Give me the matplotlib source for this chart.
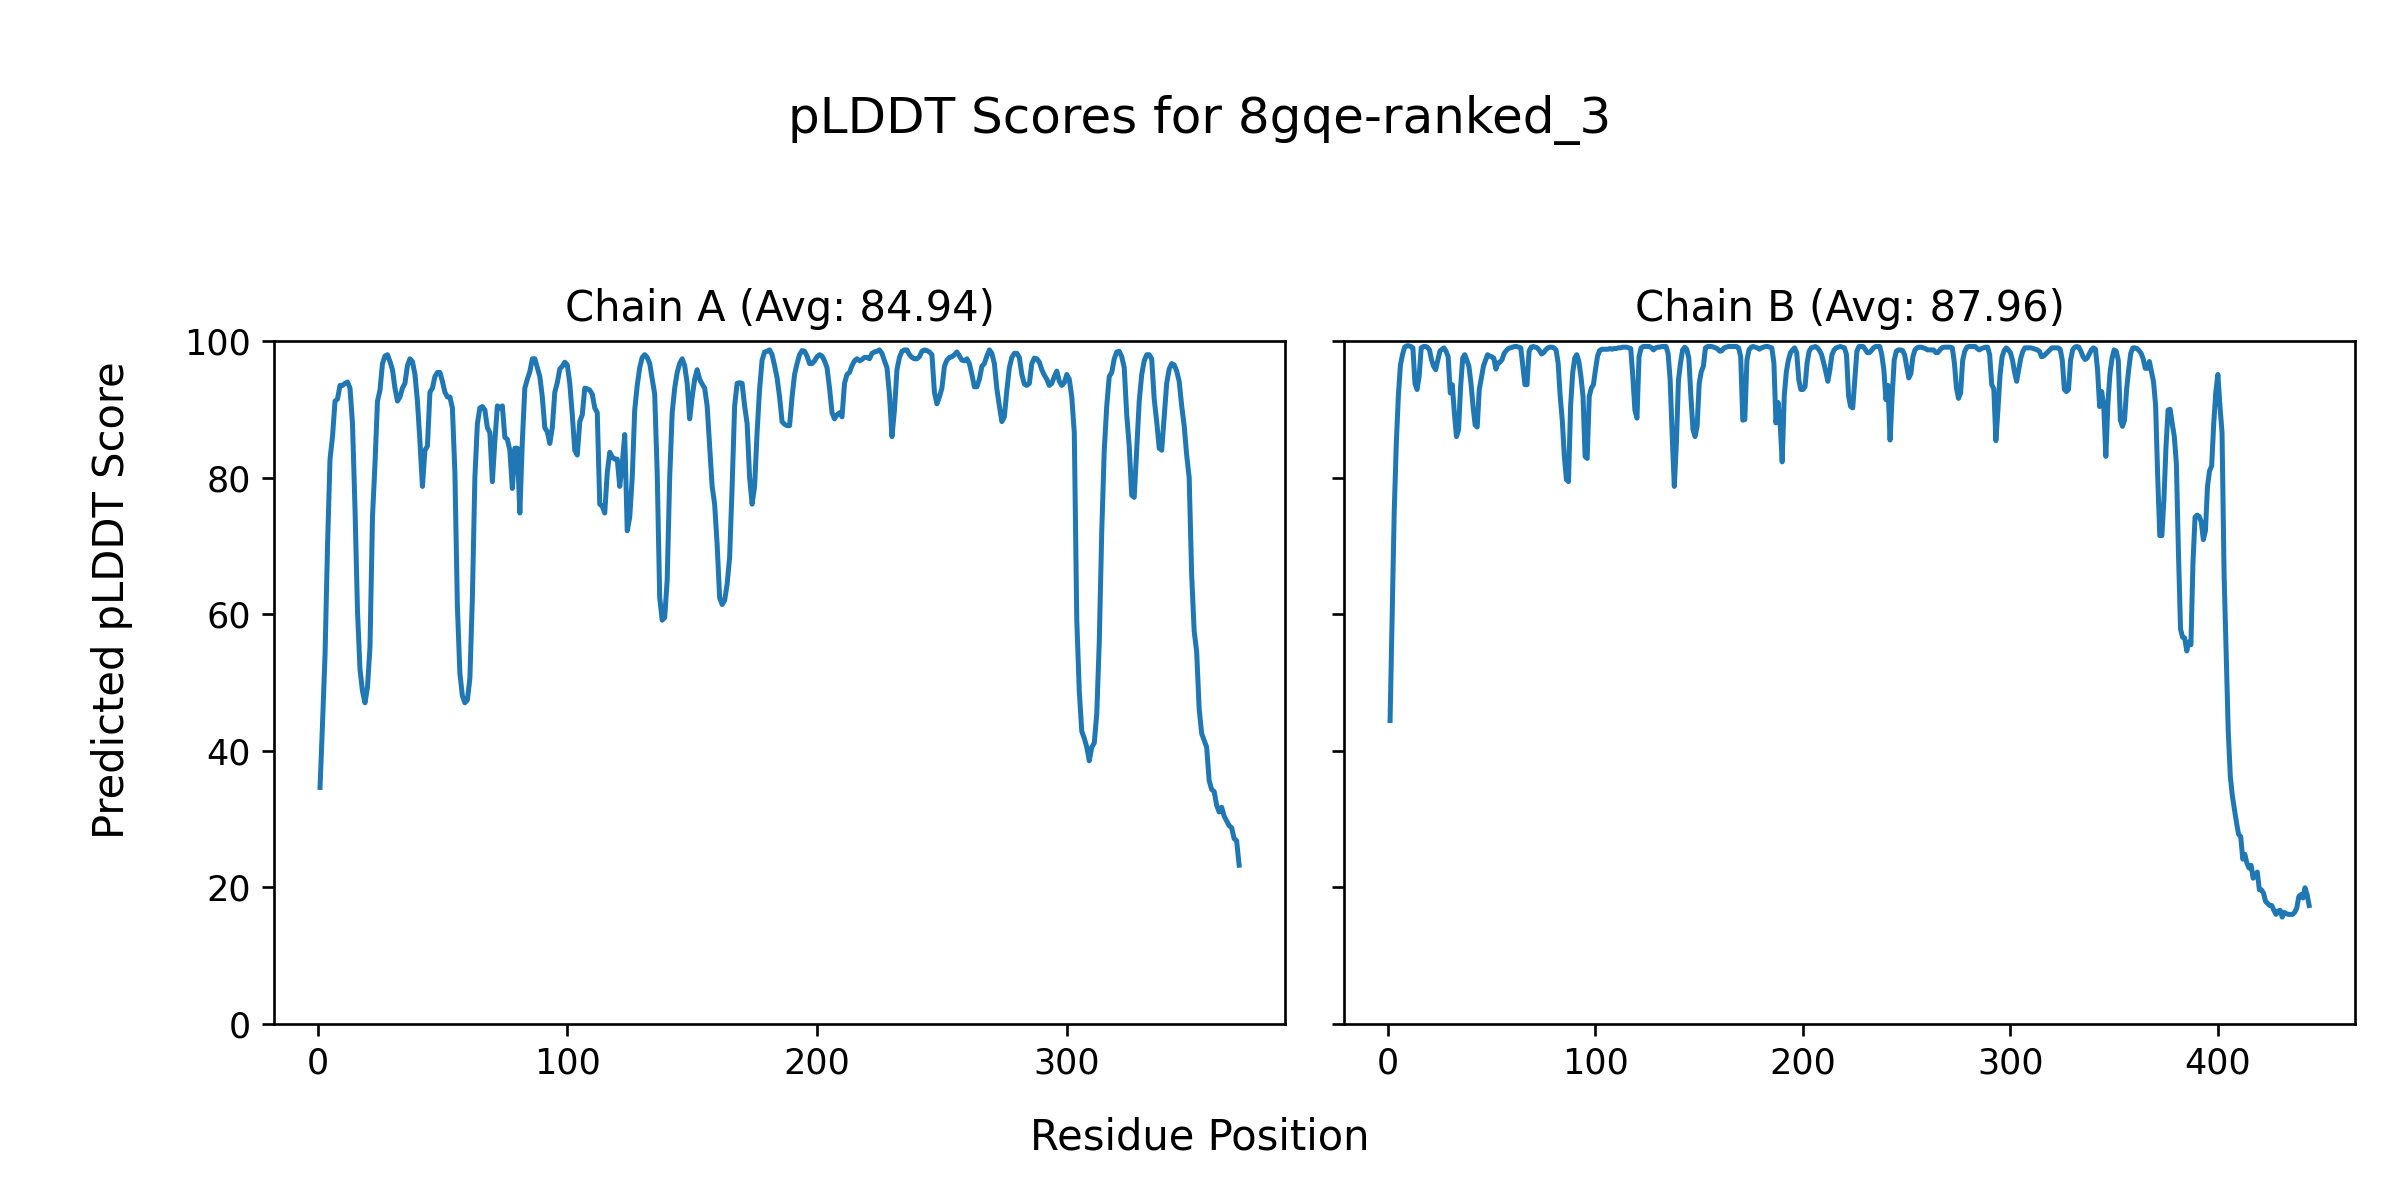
import numpy as np
import matplotlib
matplotlib.use("Agg")
import matplotlib.pyplot as plt
from matplotlib.ticker import MultipleLocator

model_name = "8gqe-ranked_3"
chain_names = ["A", "B"]
chain_avgs = [84.94, 87.96]

# pLDDT per residue (residue 1..N)
plddt_a = [
    34.6, 44.0, 54.0, 70.0, 82.7, 86.0, 91.2, 91.5, 93.5, 93.5,
    93.8, 94.0, 93.1, 87.9, 75.5, 60.4, 51.9, 48.7, 47.0, 49.3,
    55.2, 74.2, 82.0, 91.2, 92.8, 96.7, 97.8, 98.0, 97.0, 95.8,
    93.1, 91.2, 91.8, 93.1, 93.8, 96.4, 97.4, 97.0, 95.1, 91.2,
    85.3, 78.7, 84.0, 84.6, 92.5, 93.1, 94.8, 95.4, 95.4, 94.1,
    92.5, 91.8, 91.8, 90.2, 80.7, 61.1, 51.3, 48.0, 47.0, 47.4,
    50.6, 62.4, 80.0, 87.9, 90.2, 90.4, 89.9, 87.3, 86.6, 79.4,
    85.3, 90.5, 90.2, 90.5, 85.9, 85.6, 84.0, 78.4, 84.3, 84.3,
    74.8, 85.3, 93.1, 94.4, 95.5, 97.4, 97.4, 96.1, 94.8, 91.8,
    87.3, 86.7, 85.0, 87.3, 92.5, 93.9, 95.9, 96.3, 96.9, 96.5,
    93.8, 89.2, 84.0, 83.3, 88.2, 89.2, 93.1, 93.0, 92.8, 92.2,
    90.2, 89.5, 76.1, 75.8, 74.8, 80.7, 83.7, 83.0, 82.7, 82.7,
    78.7, 82.0, 86.3, 72.2, 74.2, 80.0, 89.9, 93.5, 96.1, 97.6,
    98.0, 97.6, 96.7, 94.4, 92.2, 80.7, 62.4, 59.1, 59.5, 65.0,
    80.0, 89.5, 93.1, 95.4, 96.7, 97.4, 96.4, 93.8, 88.6, 91.8,
    94.4, 95.8, 94.4, 93.7, 93.1, 90.5, 84.6, 78.7, 76.1, 70.2,
    62.4, 61.4, 62.0, 64.4, 68.3, 78.7, 90.5, 93.8, 93.9, 93.8,
    90.5, 87.9, 80.0, 76.1, 78.7, 86.6, 93.0, 97.2, 98.4, 98.5,
    98.7, 98.0, 96.4, 94.6, 91.8, 88.2, 87.8, 87.6, 87.6, 91.8,
    95.1, 96.7, 98.0, 98.6, 98.5, 97.8, 96.7, 96.7, 97.1, 97.7,
    98.0, 97.8, 97.1, 96.1, 93.1, 89.5, 88.6, 89.2, 89.5, 88.9,
    93.8, 95.1, 95.4, 96.4, 97.1, 97.4, 97.1, 97.3, 97.6, 97.6,
    97.4, 98.2, 98.4, 98.5, 98.7, 98.2, 97.1, 96.1, 92.2, 86.0,
    89.9, 95.8, 97.6, 98.5, 98.7, 98.7, 98.0, 97.6, 97.4, 97.4,
    97.7, 98.5, 98.7, 98.6, 98.4, 98.0, 92.5, 90.8, 91.8, 93.1,
    96.3, 97.2, 97.6, 97.7, 98.0, 98.4, 97.8, 97.2, 97.1, 97.4,
    96.7, 95.1, 93.3, 93.3, 94.4, 96.3, 96.7, 97.8, 98.7, 98.2,
    96.7, 93.0, 90.5, 88.2, 88.9, 92.8, 96.1, 97.6, 98.2, 98.2,
    97.6, 95.1, 93.7, 93.5, 93.8, 96.7, 97.5, 97.4, 96.9, 95.8,
    95.0, 94.4, 93.5, 93.8, 94.8, 95.6, 94.1, 93.5, 93.9, 95.1,
    94.4, 91.8, 86.6, 59.1, 48.7, 42.8, 41.8, 40.5, 38.5, 40.5,
    41.1, 45.4, 55.9, 72.2, 84.0, 90.5, 94.8, 95.4, 97.4, 98.4,
    98.5, 97.7, 96.1, 89.2, 84.6, 77.4, 77.1, 84.0, 91.2, 95.1,
    97.1, 98.0, 98.0, 97.4, 91.5, 88.2, 84.3, 84.0, 88.9, 93.8,
    95.9, 96.7, 96.5, 95.6, 94.1, 90.5, 87.6, 83.3, 80.0, 65.7,
    57.5, 54.5, 46.1, 42.5, 41.5, 40.5, 35.6, 34.3, 34.0, 32.0,
    31.0, 31.7, 30.4, 29.7, 29.0, 28.7, 27.1, 26.8, 23.2,
]

plddt_b = [
    44.4, 60.0, 75.0, 85.0, 92.0, 96.5, 98.0, 99.1, 99.3, 99.3,
    99.2, 99.0, 93.8, 92.9, 94.8, 99.0, 99.2, 99.2, 99.1, 98.7,
    97.2, 96.3, 95.8, 97.2, 98.5, 98.8, 99.0, 98.5, 97.7, 92.4,
    93.6, 89.4, 86.0, 87.0, 93.3, 97.5, 98.0, 97.2, 96.3, 93.8,
    90.4, 87.7, 87.4, 92.9, 94.6, 96.3, 97.2, 98.0, 97.8, 97.7,
    97.5, 95.9, 96.8, 96.9, 97.3, 98.2, 98.6, 98.9, 99.0, 99.1,
    99.2, 99.2, 99.1, 99.0, 96.3, 93.6, 93.6, 98.5, 99.1, 99.2,
    99.1, 99.0, 98.6, 98.1, 98.3, 98.7, 99.0, 99.1, 99.1, 99.0,
    98.7, 96.8, 91.9, 88.4, 83.1, 79.7, 79.4, 90.4, 95.3, 97.5,
    98.0, 97.0, 94.8, 91.9, 83.1, 82.8, 91.9, 93.1, 93.6, 95.8,
    97.8, 98.6, 98.8, 98.8, 98.8, 98.8, 98.9, 98.8, 98.9, 98.9,
    99.0, 99.0, 99.1, 99.1, 99.1, 99.0, 98.9, 94.8, 89.9, 88.7,
    97.7, 99.0, 99.2, 99.2, 99.2, 99.2, 99.0, 98.7, 99.0, 99.1,
    99.1, 99.2, 99.2, 99.2, 98.2, 94.3, 86.0, 78.7, 85.0, 94.3,
    96.8, 98.7, 99.1, 98.8, 97.5, 91.9, 87.0, 86.0, 87.5, 93.8,
    95.5, 96.3, 99.0, 99.2, 99.2, 99.2, 99.1, 99.0, 98.8, 98.5,
    98.6, 99.0, 99.1, 99.2, 99.2, 99.2, 99.2, 99.2, 99.0, 97.7,
    88.4, 88.5, 97.2, 98.7, 99.1, 99.2, 99.1, 99.0, 98.8, 99.0,
    99.1, 99.2, 99.2, 99.1, 99.0, 96.8, 88.0, 91.0, 88.0, 82.3,
    92.0, 95.5, 97.2, 98.3, 98.7, 99.0, 98.3, 94.3, 92.9, 92.9,
    93.3, 96.8, 98.5, 99.0, 99.1, 99.2, 99.0, 98.6, 98.0, 96.8,
    95.5, 94.1, 95.8, 98.0, 98.7, 99.0, 99.1, 99.2, 99.1, 99.0,
    98.0, 91.9, 90.4, 90.2, 94.3, 98.5, 99.2, 99.2, 99.2, 98.8,
    98.3, 98.3, 98.6, 99.0, 99.2, 99.2, 99.2, 98.0, 95.8, 91.4,
    93.5, 85.5, 91.9, 97.2, 98.5, 98.7, 98.7, 98.6, 98.0, 96.3,
    94.6, 95.2, 97.7, 98.7, 99.0, 99.1, 99.1, 99.0, 98.9, 98.7,
    98.7, 98.7, 98.7, 98.3, 98.3, 98.7, 99.0, 99.1, 99.1, 99.1,
    99.1, 99.0, 96.8, 93.1, 91.6, 92.4, 97.2, 98.5, 99.1, 99.2,
    99.2, 99.2, 99.2, 98.9, 98.7, 98.9, 99.0, 99.1, 99.1, 98.0,
    93.6, 93.0, 85.4, 90.0, 95.0, 97.7, 98.6, 99.0, 98.7, 98.3,
    97.2, 95.4, 94.1, 95.8, 97.5, 98.5, 99.0, 99.0, 99.0, 99.0,
    98.9, 98.8, 98.7, 98.5, 97.7, 97.8, 98.1, 98.4, 98.7, 99.0,
    99.0, 99.0, 99.0, 98.8, 97.2, 92.9, 92.6, 92.9, 97.2, 98.7,
    99.1, 99.2, 99.1, 98.5, 97.7, 97.3, 97.5, 98.1, 98.7, 99.0,
    98.8, 95.8, 90.4, 92.6, 90.4, 83.1, 90.9, 95.3, 97.5, 98.7,
    98.5, 97.2, 88.4, 87.5, 88.4, 92.9, 95.8, 98.2, 99.0, 99.0,
    98.9, 98.6, 98.2, 97.4, 96.0, 96.0, 97.0, 95.5, 94.0, 90.5,
    80.0, 71.5, 71.5, 76.8, 84.6, 89.9, 90.0, 87.9, 86.0, 82.0,
    69.0, 57.8, 56.6, 56.5, 54.6, 55.9, 55.5, 67.6, 74.2, 74.5,
    74.3, 73.5, 70.9, 72.2, 78.7, 81.0, 81.7, 87.9, 92.5, 95.1,
    90.5, 86.6, 65.7, 54.5, 42.8, 36.2, 33.3, 31.3, 29.4, 27.7,
    27.4, 24.1, 24.8, 23.5, 22.8, 23.2, 21.3, 21.7, 22.2, 19.6,
    19.6, 19.1, 17.9, 17.6, 17.3, 17.3, 16.6, 16.0, 16.5, 16.6,
    15.6, 16.3, 16.1, 16.0, 16.0, 16.0, 16.3, 16.9, 18.6, 18.9,
    18.4, 19.9, 18.9, 17.3,
]

chain_scores = [plddt_a, plddt_b]

#---

fig = plt.figure(figsize=(10, 5), dpi=240)
axes = fig.subplots(1, 2, sharey=True)
fig.subplots_adjust(left=0.1142, right=0.9813, bottom=0.147, top=0.7158, wspace=0.0584)

for ax, name, avg, scores in zip(axes, chain_names, chain_avgs, chain_scores):
    residues = np.arange(1, len(scores) + 1)
    ax.plot(residues, scores)
    ax.set_title(f"Chain {name} (Avg: {avg:.2f})", fontsize=12.5)
    ax.set_ylim(0, 100)
    ax.xaxis.set_major_locator(MultipleLocator(100))
    ax.tick_params(labelsize=10.5)

fig.suptitle(f"pLDDT Scores for {model_name}", fontsize=15, y=0.9, va="center")
fig.supxlabel("Residue Position", y=0.0525, va="center", fontsize=12.5)
fig.supylabel("Predicted pLDDT Score", x=0.0467, ha="center", va="center", fontsize=12.5)

fig.savefig("out.png", dpi=240)
